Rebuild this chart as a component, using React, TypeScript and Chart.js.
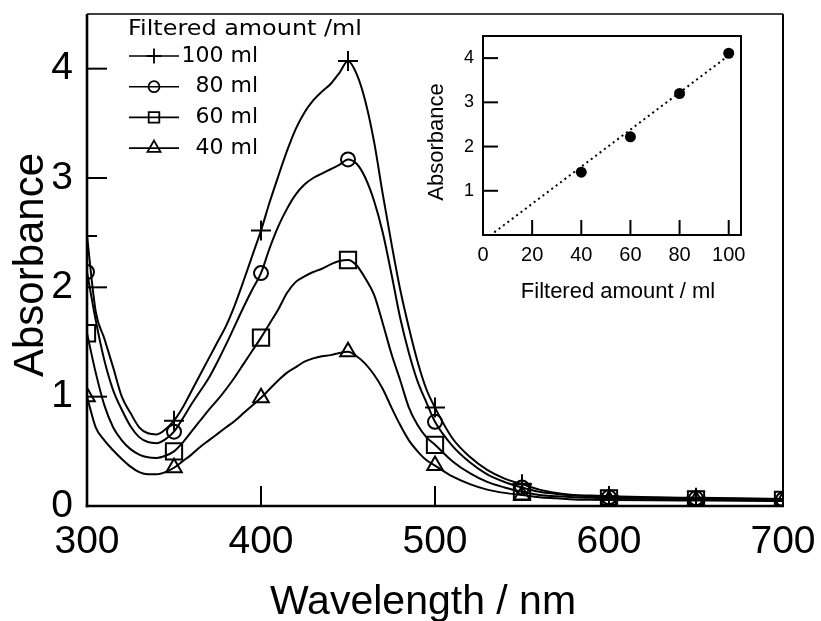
import React, { useEffect, useRef } from 'react';
import { Chart, registerables } from 'chart.js';

Chart.register(...registerables);

const FONT = "'Liberation Sans', Arial, sans-serif";
const LEGEND_FONT = "'DejaVu Sans', sans-serif";

// ---------- main spectra ----------
const wavelengths = [
  300, 305, 310, 315, 320, 325, 330, 335, 340, 345,
  350, 355, 360, 365, 370, 375, 380, 385, 390, 395,
  400, 405, 410, 415, 420, 425, 430, 435, 440, 445,
  450, 455, 460, 465, 470, 475, 480, 485, 490, 495,
  500, 510, 520, 530, 540, 550, 560, 570, 580, 590,
  600, 625, 650, 675, 700,
];

const abs100 = [
  2.47, 1.78, 1.53, 1.27, 1.0, 0.85, 0.72, 0.665, 0.655, 0.7,
  0.78, 0.9, 1.05, 1.2, 1.35, 1.5, 1.65, 1.84, 2.06, 2.29,
  2.52, 2.78, 3.02, 3.25, 3.45, 3.6, 3.71, 3.79, 3.86, 3.96,
  4.07, 3.95, 3.7, 3.33, 2.85, 2.4, 1.98, 1.63, 1.32, 1.07,
  0.9, 0.62, 0.45, 0.33, 0.25, 0.2, 0.15, 0.12, 0.1, 0.095,
  0.09, 0.08, 0.075, 0.07, 0.065,
];

const abs80 = [
  2.14, 1.7, 1.33, 1.06, 0.88, 0.73, 0.63, 0.585, 0.575, 0.61,
  0.68, 0.8, 0.93, 1.05, 1.17, 1.32, 1.48, 1.65, 1.82, 1.98,
  2.13, 2.36, 2.56, 2.72, 2.85, 2.94, 3.0, 3.04, 3.08, 3.12,
  3.17, 3.13, 3.0, 2.79, 2.5, 2.12, 1.72, 1.4, 1.14, 0.95,
  0.77, 0.55, 0.4, 0.29, 0.22, 0.17, 0.13, 0.11, 0.095, 0.088,
  0.08, 0.075, 0.07, 0.065, 0.06,
];

const abs60 = [
  1.58, 1.22, 0.92, 0.72, 0.6, 0.52, 0.47, 0.445, 0.44, 0.46,
  0.5, 0.58, 0.68, 0.78, 0.88, 0.97, 1.07, 1.18, 1.3, 1.42,
  1.54, 1.67, 1.8, 1.95, 2.05, 2.1, 2.14, 2.17, 2.21, 2.24,
  2.25, 2.2, 2.08, 1.93, 1.67, 1.39, 1.15, 0.9, 0.74, 0.63,
  0.56, 0.41, 0.3, 0.22, 0.17, 0.13, 0.1, 0.09, 0.08, 0.075,
  0.07, 0.065, 0.06, 0.058, 0.055,
];

const abs40 = [
  1.0, 0.72, 0.6, 0.51, 0.43, 0.36, 0.31, 0.29, 0.29, 0.31,
  0.35, 0.41, 0.47, 0.54, 0.6, 0.66, 0.72, 0.78, 0.85, 0.92,
  0.99, 1.07, 1.15, 1.22, 1.27, 1.32, 1.35, 1.37, 1.38, 1.4,
  1.41, 1.37, 1.3, 1.2, 1.07, 0.9, 0.74, 0.6, 0.5, 0.42,
  0.37, 0.27, 0.2, 0.15, 0.12, 0.1, 0.08, 0.07, 0.06, 0.057,
  0.055, 0.052, 0.05, 0.048, 0.045,
];

const seriesValues = [abs100, abs80, abs60, abs40];
const seriesLabels = ['100 ml', '80 ml', '60 ml', '40 ml'];
const markerStyles = ['cross', 'circle', 'rect', 'triangle'];
const markerRadii = [10, 7, 11.5, 9];
const legendRadii = [7.5, 5.5, 7.5, 7.5];
const markerStep = 50;

const xTickValues = [300, 400, 500, 600, 700];
const yTickValues = [0, 1, 2, 3, 4];

// ---------- inset ----------
const insetAmounts = [40, 60, 80, 100];
const insetAbs = [1.42, 2.22, 3.2, 4.11];
const fitAmounts = [4.6, 100];
const fitAbs = [0.06, 4.06];
const insetXTicks = [0, 20, 40, 60, 80, 100];
const insetYTicks = [1, 2, 3, 4];

function line(ctx: CanvasRenderingContext2D, x1: number, y1: number, x2: number, y2: number) {
  ctx.beginPath();
  ctx.moveTo(x1, y1);
  ctx.lineTo(x2, y2);
  ctx.stroke();
}

function drawMarker(ctx: CanvasRenderingContext2D, style: string, x: number, y: number, r: number) {
  ctx.beginPath();
  if (style === 'circle') {
    ctx.arc(x, y, r, 0, Math.PI * 2);
  } else if (style === 'rect') {
    const s = r * Math.SQRT1_2;
    ctx.rect(x - s, y - s, 2 * s, 2 * s);
  } else if (style === 'triangle') {
    for (let k = 0; k < 3; k++) {
      const a = (k * 2 * Math.PI) / 3;
      const px = x + Math.sin(a) * r;
      const py = y - Math.cos(a) * r;
      if (k === 0) ctx.moveTo(px, py);
      else ctx.lineTo(px, py);
    }
    ctx.closePath();
  } else if (style === 'cross') {
    ctx.moveTo(x - r, y);
    ctx.lineTo(x + r, y);
    ctx.moveTo(x, y - r);
    ctx.lineTo(x, y + r);
  }
  ctx.stroke();
}

const mainDecor = {
  id: 'mainDecor',
  afterDraw(chart: any) {
    const { ctx, chartArea: a, scales } = chart;
    ctx.save();
    ctx.strokeStyle = '#000';
    ctx.fillStyle = '#000';
    // frame
    ctx.lineWidth = 2.6;
    line(ctx, a.left, a.top, a.left, a.bottom + 1.3);
    line(ctx, a.left - 1.3, a.bottom, a.right + 1, a.bottom);
    ctx.lineWidth = 1.6;
    line(ctx, a.left, a.top, a.right, a.top);
    ctx.lineWidth = 2;
    line(ctx, a.right, a.top, a.right, a.bottom);
    // inner ticks
    ctx.lineWidth = 2;
    yTickValues.forEach((v) => {
      if (v <= 0) return;
      const y = scales.y.getPixelForValue(v);
      line(ctx, a.left, y, a.left + 20, y);
    });
    xTickValues.forEach((v) => {
      if (v <= 300 || v >= 700) return;
      const x = scales.x.getPixelForValue(v);
      line(ctx, x, a.bottom, x, a.bottom - 20);
    });
    // axis titles
    ctx.font = `41px ${FONT}`;
    ctx.textAlign = 'center';
    ctx.textBaseline = 'alphabetic';
    ctx.fillText('Wavelength / nm', 423, 614);
    ctx.save();
    ctx.translate(43, 265);
    ctx.rotate(-Math.PI / 2);
    ctx.font = `42px ${FONT}`;
    ctx.fillText('Absorbance', 0, 0);
    ctx.restore();
    // legend
    ctx.font = `21px ${LEGEND_FONT}`;
    ctx.textAlign = 'left';
    const title = 'Filtered amount /ml';
    const w = ctx.measureText(title).width;
    ctx.save();
    ctx.translate(128, 35);
    ctx.scale(234 / w, 1);
    ctx.fillText(title, 0, 0);
    ctx.restore();
    ctx.font = `22px ${LEGEND_FONT}`;
    ctx.textAlign = 'right';
    ctx.textBaseline = 'middle';
    seriesLabels.forEach((lab, i) => {
      const y = 56 + i * 30.7;
      ctx.lineWidth = 1.6;
      line(ctx, 129, y, 179, y);
      ctx.lineWidth = 1.8;
      drawMarker(ctx, markerStyles[i], 154, y, legendRadii[i]);
      ctx.fillText(lab, 258, y);
    });
    ctx.restore();
  },
};

const insetDecor = {
  id: 'insetDecor',
  afterDraw(chart: any) {
    const { ctx, chartArea: a, scales } = chart;
    ctx.save();
    ctx.strokeStyle = '#000';
    ctx.fillStyle = '#000';
    ctx.lineWidth = 2;
    ctx.strokeRect(a.left, a.top, a.right - a.left, a.bottom - a.top);
    insetYTicks.forEach((v) => {
      const y = scales.y.getPixelForValue(v);
      line(ctx, a.left, y, a.left + 15, y);
    });
    insetXTicks.forEach((v) => {
      if (v <= 0) return;
      const x = scales.x.getPixelForValue(v);
      line(ctx, x, a.bottom, x, a.bottom - 15);
    });
    ctx.font = `22px ${FONT}`;
    ctx.textAlign = 'center';
    ctx.textBaseline = 'alphabetic';
    ctx.fillText('Filtered amount / ml', 618, 298);
    ctx.save();
    ctx.translate(443, 142);
    ctx.rotate(-Math.PI / 2);
    ctx.fillText('Absorbance', 0, 0);
    ctx.restore();
    ctx.restore();
  },
};

export default function App() {
  const mainRef = useRef<HTMLCanvasElement>(null);
  const insetRef = useRef<HTMLCanvasElement>(null);

  useEffect(() => {
    const datasets = seriesValues.map((vals, i) => ({
      label: seriesLabels[i],
      data: wavelengths.map((x, j) => ({ x, y: vals[j] })),
      borderColor: '#000',
      borderWidth: 2,
      backgroundColor: 'rgba(0,0,0,0)',
      pointStyle: markerStyles[i],
      pointRadius: (c: any) => (wavelengths[c.dataIndex] % markerStep === 0 ? markerRadii[i] : 0),
      pointBorderWidth: 2,
      pointBorderColor: '#000',
      pointBackgroundColor: 'rgba(0,0,0,0)',
      cubicInterpolationMode: 'monotone' as const,
      fill: false,
    }));

    const main = new Chart(mainRef.current!, {
      type: 'line',
      data: { datasets },
      options: {
        responsive: false,
        animation: false,
        devicePixelRatio: 1,
        layout: { padding: { left: 0, top: 14, right: 38, bottom: 0 } },
        plugins: { legend: { display: false }, tooltip: { enabled: false } },
        scales: {
          x: {
            type: 'linear',
            min: 300,
            max: 700,
            grid: { display: false, drawTicks: false },
            border: { display: false },
            ticks: {
              stepSize: 100,
              includeBounds: false,
              autoSkip: false,
              maxRotation: 0,
              padding: 13,
              color: '#000',
              font: { family: FONT, size: 39 },
            },
            afterFit: (s: any) => {
              s.height = 115;
              s.paddingLeft = 0;
              s.paddingRight = 0;
            },
          },
          y: {
            type: 'linear',
            min: 0,
            max: 4.5,
            grid: { display: false, drawTicks: false },
            border: { display: false },
            ticks: {
              stepSize: 1,
              includeBounds: false,
              padding: 14,
              color: '#000',
              font: { family: FONT, size: 39 },
            },
            afterFit: (s: any) => {
              s.width = 87;
              s.paddingTop = 0;
              s.paddingBottom = 0;
            },
          },
        },
      },
      plugins: [mainDecor],
    });

    const inset = new Chart(insetRef.current!, {
      type: 'scatter',
      data: {
        datasets: [
          {
            label: 'measured',
            data: insetAmounts.map((x, i) => ({ x, y: insetAbs[i] })),
            pointRadius: 5.5,
            pointBackgroundColor: '#000',
            pointBorderColor: '#000',
            pointBorderWidth: 0,
            showLine: false,
          },
          {
            label: 'fit',
            data: fitAmounts.map((x, i) => ({ x, y: fitAbs[i] })),
            showLine: true,
            borderColor: '#000',
            borderWidth: 2,
            borderDash: [2, 3.5],
            pointRadius: 0,
          },
        ],
      },
      options: {
        responsive: false,
        animation: false,
        devicePixelRatio: 1,
        layout: { padding: { left: 423, top: 36, right: 80, bottom: 326 } },
        plugins: { legend: { display: false }, tooltip: { enabled: false } },
        scales: {
          x: {
            type: 'linear',
            min: 0,
            max: 105,
            grid: { display: false, drawTicks: false },
            border: { display: false },
            ticks: {
              stepSize: 20,
              includeBounds: false,
              autoSkip: false,
              maxRotation: 0,
              padding: 8,
              color: '#000',
              font: { family: FONT, size: 20 },
            },
            afterFit: (s: any) => {
              s.height = 60;
              s.paddingLeft = 0;
              s.paddingRight = 0;
            },
          },
          y: {
            type: 'linear',
            min: 0,
            max: 4.5,
            grid: { display: false, drawTicks: false },
            border: { display: false },
            ticks: {
              stepSize: 1,
              includeBounds: false,
              padding: 9,
              color: '#000',
              font: { family: FONT, size: 18 },
              callback: (v: any) => (v === 0 ? '' : String(v)),
            },
            afterFit: (s: any) => {
              s.width = 60;
              s.paddingTop = 0;
              s.paddingBottom = 0;
            },
          },
        },
      },
      plugins: [insetDecor],
    });

    return () => {
      main.destroy();
      inset.destroy();
    };
  }, []);

  return (
    <div style={{ position: 'fixed', left: 0, top: 0, width: 821, height: 621, background: '#fff' }}>
      <canvas ref={mainRef} width={821} height={621} style={{ position: 'absolute', left: 0, top: 0 }} />
      <canvas ref={insetRef} width={821} height={621} style={{ position: 'absolute', left: 0, top: 0 }} />
    </div>
  );
}
